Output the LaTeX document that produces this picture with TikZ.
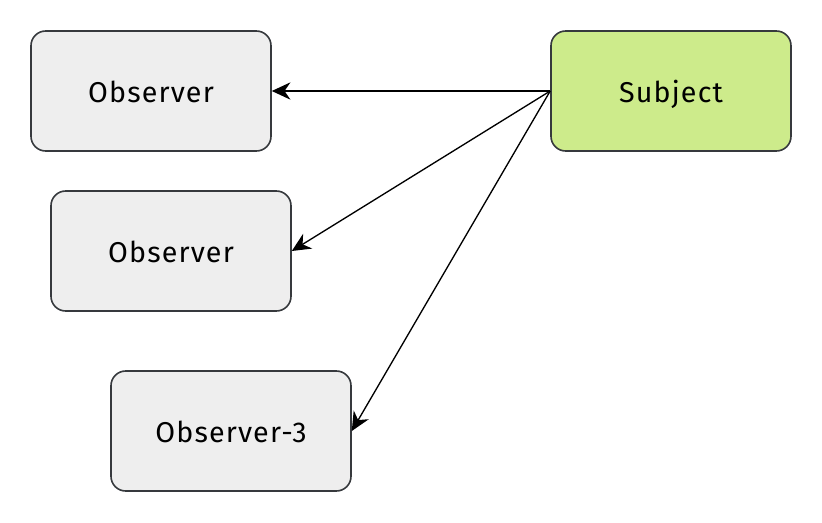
\documentclass[tikz,border=0pt]{standalone}
\usepackage{fontspec}
\setmainfont[LetterSpace=4]{Fira Sans}
\usetikzlibrary{arrows.meta}
\definecolor{boxline}{HTML}{36393D}
\definecolor{obsfill}{HTML}{EEEEEE}
\definecolor{subjfill}{HTML}{CDEB8B}
\begin{document}
\begin{tikzpicture}[x=0.75pt,y=-0.75pt,
  box/.style={draw=boxline,line width=1.2pt,rounded corners=11pt,minimum width=180pt,minimum height=90pt,fill=obsfill,font=\fontsize{21.5}{25}\selectfont,inner sep=0pt,text depth=0pt,text height=17pt},
  conn/.style={draw=black,line width=1pt,-{Stealth[length=14pt,width=13pt,inset=4.5pt]}}]
\useasboundingbox (0,0) rectangle (822,522);
\node[box] (o1) at (151,91) {Observer};
\node[box] (o2) at (171,251) {Observer};
\node[box] (o3) at (231,431) {Observer-3};
\node[box,fill=subjfill] (s) at (671,91) {Subject};
\draw[conn] (s.west) -- (o1.east);
\draw[conn] (s.west) -- (o2.east);
\draw[conn] (s.west) -- (o3.east);
\end{tikzpicture}
\end{document}
